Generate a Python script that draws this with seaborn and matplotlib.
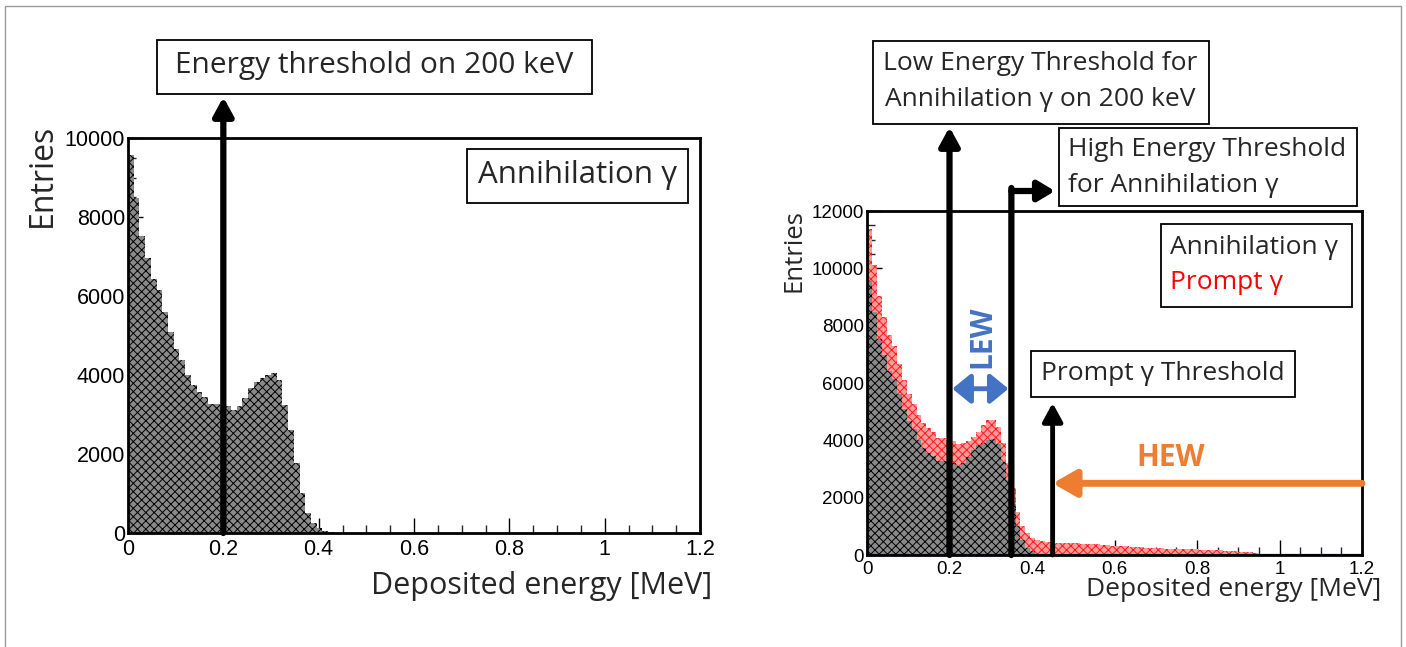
import numpy as np
import pandas as pd
import matplotlib
matplotlib.use("Agg")
import matplotlib.pyplot as plt
import seaborn as sns
from matplotlib.patches import Rectangle
from matplotlib.ticker import MultipleLocator

# ---------------- data ----------------
BIN_W = 0.012  # MeV
annihilation = [9570, 8480, 7520, 6960, 6430, 6150, 5600, 5090, 4660, 4380,
                4000, 3750, 3570, 3440, 3270, 3270, 3240, 3220, 3110, 3220,
                3420, 3670, 3820, 3920, 4000, 4050, 3870, 3240, 2610, 1770,
                1010, 510, 250, 130, 50, 20]
prompt = [1800, 1650, 1500, 1350, 1250, 1150, 1050, 1000, 950, 900,
          880, 860, 850, 840, 820, 800, 780, 760, 750, 700,
          550, 450, 480, 600, 700, 650, 600, 650, 600, 550,
          500, 500, 520, 480, 470, 460, 450, 440, 430, 420,
          420, 410, 410, 400, 390, 380, 370, 360, 340, 330,
          320, 310, 300, 290, 280, 270, 260, 250, 240, 230,
          220, 215, 210, 205, 200, 200, 195, 190, 185, 180,
          170, 160, 150, 140, 130, 120, 110, 90, 70, 50,
          20, 5]
x_ticks = [0, 0.2, 0.4, 0.6, 0.8, 1.0, 1.2]
x_tick_labels = ["0", "0.2", "0.4", "0.6", "0.8", "1", "1.2"]
y_ticks_left = [0, 2000, 4000, 6000, 8000, 10000]
y_ticks_right = [0, 2000, 4000, 6000, 8000, 10000, 12000]
thr_low = 0.2
thr_high = 0.35
thr_prompt = 0.45
hew_level = 2500
lew_level = 5800

# ---------------- style ----------------
sns.set_style("ticks")
plt.rcParams["font.family"] = ["Liberation Sans", "DejaVu Sans"]
plt.rcParams["hatch.linewidth"] = 0.7
TXT = ["Open Sans", "DejaVu Sans"]

W, H = 1406, 647
fig = plt.figure(figsize=(W / 100, H / 100), dpi=100)
fig.patch.set_facecolor("white")


def fx(x):
    return x / W


def fy(y):
    return 1 - y / H


def box(x0, y0, x1, y1, lw=1.3):
    fig.add_artist(Rectangle((fx(x0), fy(y1)), (x1 - x0) / W, (y1 - y0) / H,
                             transform=fig.transFigure, facecolor="white",
                             edgecolor="black", lw=lw, zorder=20))


# outer frame (bottom edge falls outside the picture)
fig.add_artist(Rectangle((fx(5), fy(670)), (1401 - 5) / W, (670 - 6) / H,
                         transform=fig.transFigure, fill=False,
                         edgecolor="#9a9a9a", lw=1.0, zorder=0))

ax1 = fig.add_axes([fx(128), fy(533), 572 / W, 395 / H])
ax2 = fig.add_axes([fx(867), fy(555), 495 / W, 344 / H])

BINRANGE = (0, 1.2)


def centers(arr):
    return (np.arange(len(arr)) + 0.5) * BIN_W


# left histogram
df_left = pd.DataFrame({"energy": centers(annihilation), "count": annihilation})
sns.histplot(data=df_left, x="energy", weights="count", binwidth=BIN_W,
             binrange=BINRANGE, element="step", fill=True, color="#8a8a8a",
             alpha=1, linewidth=0, ax=ax1)
for c in ax1.collections:
    c.set_hatch("xxxx")
    c.set_edgecolor("black")
    c.set_linewidth(0)

# right histogram (stacked)
df_right = pd.concat([
    pd.DataFrame({"energy": centers(annihilation), "count": annihilation,
                  "source": "Annihilation γ"}),
    pd.DataFrame({"energy": centers(prompt), "count": prompt,
                  "source": "Prompt γ"}),
], ignore_index=True)
sns.histplot(data=df_right, x="energy", weights="count", hue="source",
             hue_order=["Prompt γ", "Annihilation γ"], multiple="stack",
             binwidth=BIN_W, binrange=BINRANGE, element="step", fill=True,
             palette={"Annihilation γ": "#8a8a8a", "Prompt γ": "#ff9a9a"},
             alpha=1, linewidth=0, legend=False, ax=ax2)
for c in ax2.collections:
    fc = c.get_facecolor()[0]
    c.set_linewidth(0)
    if fc[0] > 0.9 and fc[1] < 0.8:
        c.set_hatch("xxxx")
        c.set_edgecolor("#ff1a1a")
    else:
        c.set_hatch("xxxx")
        c.set_edgecolor("black")
ax2.axhline(0, color="#1a1a80", lw=1.6, zorder=5)

# axes styling (ROOT-like)
for ax, yt, ymax, lsize in [(ax1, y_ticks_left, 10000, 15.5),
                            (ax2, y_ticks_right, 12000, 13.5)]:
    ax.set_xlim(0, 1.2)
    ax.set_ylim(0, ymax)
    ax.set_xticks(x_ticks)
    ax.set_xticklabels(x_tick_labels)
    ax.set_yticks(yt)
    ax.set_yticklabels([str(v) for v in yt])
    ax.xaxis.set_minor_locator(MultipleLocator(0.05))
    ax.yaxis.set_minor_locator(MultipleLocator(500))
    ax.tick_params(which="major", direction="in", length=11, width=1.0,
                   labelsize=lsize, pad=4, colors="black")
    ax.tick_params(which="minor", direction="in", length=6, width=1.0)
    ax.tick_params(axis="y", pad=2)
    for s in ax.spines.values():
        s.set_visible(True)
        s.set_linewidth(2.0)
        s.set_color("black")
        s.set_zorder(10)
    ax.set_xlabel("")
    ax.set_ylabel("")
    ax.set_facecolor("white")

# axis titles
fig.text(fx(542), fy(586), "Deposited energy [MeV]", family=TXT, fontsize=22,
         ha="center", va="center")
fig.text(fx(42), fy(175), "Entries", family=TXT, fontsize=23, rotation=90,
         ha="center", va="center")
fig.text(fx(1234), fy(590), "Deposited energy [MeV]", family=TXT, fontsize=19,
         ha="center", va="center")
fig.text(fx(794), fy(251), "Entries", family=TXT, fontsize=18.5, rotation=90,
         ha="center", va="center")


def arrow(ax, xy, xycoords, xytext, textcoords, style, color, lw, ms=20, z=15):
    ax.annotate("", xy=xy, xycoords=xycoords, xytext=xytext,
                textcoords=textcoords, annotation_clip=False, zorder=z,
                arrowprops=dict(arrowstyle=style, color=color, lw=lw,
                                mutation_scale=ms, shrinkA=0, shrinkB=0))


# ---------- left annotations ----------
box(157, 40, 592, 94)
fig.text(fx(374.5), fy(66), "Energy threshold on 200 keV", family=TXT,
         fontsize=21.5, ha="center", va="center", zorder=21)
arrow(ax1, (thr_low, H - 97), ("data", "figure pixels"), (thr_low, 0), "data",
      "-|>,head_length=0.55,head_width=0.3", "black", 4.5)
box(467, 149, 688, 203)
fig.text(fx(577.5), fy(175), "Annihilation γ", family=TXT, fontsize=22.5,
         ha="center", va="center", zorder=21)

# ---------- right annotations ----------
RS = 19
box(873, 41, 1209, 124)
fig.text(fx(1040), fy(63.5), "Low Energy Threshold for", family=TXT,
         fontsize=RS, ha="center", va="center", zorder=21)
fig.text(fx(1040), fy(100), "Annihilation γ on 200 keV", family=TXT,
         fontsize=RS, ha="center", va="center", zorder=21)
arrow(ax2, (thr_low, H - 127), ("data", "figure pixels"), (thr_low, 0), "data",
      "-|>,head_length=0.55,head_width=0.3", "black", 4.5)

box(1059, 128, 1357, 206)
fig.text(fx(1068), fy(149), "High Energy Threshold", family=TXT,
         fontsize=RS, ha="left", va="center", zorder=21)
fig.text(fx(1068), fy(185), "for Annihilation γ", family=TXT,
         fontsize=RS, ha="left", va="center", zorder=21)
arrow(ax2, (thr_high, H - 188), ("data", "figure pixels"), (thr_high, 0), "data",
      "-", "black", 4.5)
arrow(ax2, (1055, H - 191), "figure pixels", (thr_high, H - 191),
      ("data", "figure pixels"), "-|>,head_length=0.5,head_width=0.3",
      "black", 4.5)

box(1161, 224, 1352, 307)
fig.text(fx(1170), fy(247), "Annihilation γ", family=TXT, fontsize=RS,
         ha="left", va="center", zorder=21)
fig.text(fx(1170), fy(283), "Prompt γ", family=TXT, fontsize=RS,
         ha="left", va="center", color="#ff0000", zorder=21)

box(1031, 351, 1295, 397)
fig.text(fx(1163), fy(373), "Prompt γ Threshold", family=TXT, fontsize=RS,
         ha="center", va="center", zorder=21)
arrow(ax2, (thr_prompt, H - 403), ("data", "figure pixels"), (thr_prompt, 0),
      "data", "-|>,head_length=0.55,head_width=0.3", "black", 3.5)

# HEW
arrow(ax2, (thr_prompt, hew_level), "data", (1.2, hew_level), "data",
      "-|>,head_length=0.7,head_width=0.4", "#ED7D31", 5)
fig.text(fx(1171), fy(458), "HEW", family=TXT, fontsize=21.5, weight="bold",
         color="#ED7D31", ha="center", va="center")

# LEW
arrow(ax2, (thr_high - 0.007, lew_level), "data", (thr_low + 0.007, lew_level),
      "data", "<|-|>,head_length=0.55,head_width=0.45", "#4472C4", 3.5, ms=20)
fig.text(fx(982), fy(337), "LEW", family=TXT, fontsize=21.5, weight="bold",
         color="#4472C4", rotation=90, ha="center", va="center")

fig.savefig("out.png", dpi=100)
